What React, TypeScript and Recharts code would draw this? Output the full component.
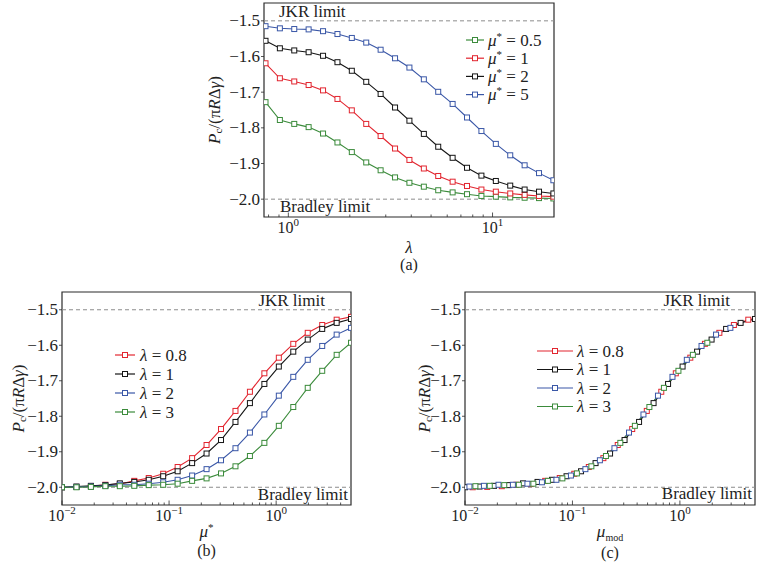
import {
  Legend,
  Line,
  LineChart,
  ReferenceArea,
  ReferenceLine,
  XAxis,
  YAxis,
} from 'recharts'

const FONT = "'Liberation Serif', 'DejaVu Serif', serif"
const RED = '#e2252f'
const BLACK = '#151515'
const BLUE = '#3a57a7'
const GREEN = '#3b8b3b'
const FRAME = '#2b2b2b'
const LIMIT = '#8c8c8c'
const INK = '#222'

// panel (a): P_c vs lambda, one curve per mu*
const LAMBDA = [0.773, 0.909, 1.069, 1.257, 1.479, 1.74, 2.046, 2.407, 2.831, 3.331, 3.917, 4.609, 5.42, 6.376, 7.499, 8.822, 10.38, 12.21, 14.36, 16.89, 19.86]
const A_MU05 = [-1.728, -1.778, -1.789, -1.798, -1.816, -1.841, -1.868, -1.897, -1.919, -1.939, -1.954, -1.965, -1.975, -1.981, -1.986, -1.991, -1.993, -1.995, -1.996, -1.997, -1.998]
const A_MU1 = [-1.619, -1.661, -1.67, -1.68, -1.695, -1.719, -1.751, -1.789, -1.823, -1.858, -1.89, -1.914, -1.935, -1.951, -1.963, -1.973, -1.979, -1.984, -1.988, -1.991, -1.993]
const A_MU2 = [-1.556, -1.577, -1.583, -1.588, -1.598, -1.616, -1.64, -1.671, -1.705, -1.743, -1.78, -1.817, -1.853, -1.884, -1.912, -1.934, -1.949, -1.962, -1.973, -1.979, -1.984]
const A_MU5 = [-1.515, -1.521, -1.523, -1.524, -1.529, -1.537, -1.548, -1.561, -1.581, -1.605, -1.631, -1.664, -1.699, -1.733, -1.771, -1.809, -1.845, -1.877, -1.905, -1.927, -1.947]

// panel (b): P_c vs mu*, one curve per lambda
const MU_STAR = [0.01, 0.01365, 0.01862, 0.02541, 0.03467, 0.04732, 0.06457, 0.0881, 0.1202, 0.1641, 0.2239, 0.3055, 0.4169, 0.5689, 0.7762, 1.059, 1.445, 1.972, 2.692, 3.673, 5.0]
const B_L08 = [-2.0, -1.999, -1.997, -1.993, -1.991, -1.982, -1.974, -1.962, -1.943, -1.918, -1.881, -1.836, -1.785, -1.731, -1.679, -1.635, -1.596, -1.565, -1.543, -1.528, -1.52]
const B_L1 = [-2.0, -1.998, -1.996, -1.994, -1.989, -1.985, -1.979, -1.969, -1.955, -1.932, -1.905, -1.867, -1.816, -1.763, -1.709, -1.66, -1.618, -1.584, -1.554, -1.537, -1.526]
const B_L2 = [-2.0, -1.999, -1.998, -1.996, -1.993, -1.993, -1.99, -1.986, -1.979, -1.967, -1.949, -1.924, -1.89, -1.846, -1.795, -1.742, -1.689, -1.641, -1.602, -1.57, -1.551]
const B_L3 = [-2.0, -2.0, -1.999, -1.997, -1.997, -1.996, -1.994, -1.993, -1.99, -1.982, -1.975, -1.961, -1.941, -1.912, -1.875, -1.827, -1.774, -1.72, -1.672, -1.627, -1.593]

// panel (c): same curves against mu_mod
const C_X_L08 = [0.0118, 0.0161, 0.022, 0.03, 0.0409, 0.0558, 0.0762, 0.104, 0.142, 0.194, 0.264, 0.36, 0.492, 0.671, 0.916, 1.25, 1.71, 2.33, 3.18, 4.33, 5.9]
const C_X_L1 = [0.01, 0.01365, 0.01862, 0.02541, 0.03467, 0.04732, 0.06457, 0.0881, 0.1202, 0.1641, 0.2239, 0.3055, 0.4169, 0.5689, 0.7762, 1.059, 1.445, 1.972, 2.692, 3.673, 5.0]
const C_X_L2 = [0.0059, 0.00805, 0.011, 0.015, 0.0205, 0.0279, 0.0381, 0.052, 0.0709, 0.0968, 0.132, 0.18, 0.246, 0.336, 0.458, 0.625, 0.853, 1.16, 1.59, 2.17, 2.95]
const C_X_L3 = [0.0036, 0.00491, 0.0067, 0.00915, 0.0125, 0.017, 0.0232, 0.0317, 0.0433, 0.0591, 0.0806, 0.11, 0.15, 0.205, 0.279, 0.381, 0.52, 0.71, 0.969, 1.32, 1.8]

const A_TICKS = [0.8, 0.9, 1, 2, 3, 4, 5, 6, 7, 8, 9, 10]
const BC_TICKS = [0.01, 0.02, 0.03, 0.04, 0.05, 0.06, 0.07, 0.08, 0.09, 0.1, 0.2, 0.3, 0.4, 0.5, 0.6, 0.7, 0.8, 0.9, 1, 2, 3, 4]
const Y_TICKS = [-2.0, -1.9, -1.8, -1.7, -1.6, -1.5]
const Y_DOMAIN = [-2.05, -1.45]

const MU_LABELS = ['0.5', '1', '2', '5']
const LAMBDA_LABELS = ['0.8', '1', '2', '3']

const dataA = LAMBDA.map((lam, i) => ({ lam, m05: A_MU05[i], m1: A_MU1[i], m2: A_MU2[i], m5: A_MU5[i] }))
const dataB = MU_STAR.map((mu, i) => ({ mu, l08: B_L08[i], l1: B_L1[i], l2: B_L2[i], l3: B_L3[i] }))
const pairs = (xs: number[], ys: number[]) => xs.map((x, i) => ({ x, y: ys[i] }))

const txt = (size: number) => ({ fontFamily: FONT, fontSize: size, fill: INK })

const squareDot = (color: string) => (props: any) => {
  const { cx, cy, index } = props
  if (cx == null || cy == null) return <g key={`d${index}`} />
  return <rect key={`d${index}`} x={cx - 2.5} y={cy - 2.5} width={5} height={5} fill="#fff" stroke={color} strokeWidth={1} />
}

function XTick(props: any) {
  const { x, y, payload } = props
  const v = payload.value as number
  const lg = Math.log10(v)
  const exp = Math.round(lg)
  const major = Math.abs(lg - exp) < 1e-6
  return (
    <g>
      <line x1={x} x2={x} y1={y} y2={y - (major ? 4.5 : 2.5)} stroke={FRAME} strokeWidth={0.8} />
      {major && (
        <text x={x} y={y + 16} textAnchor="middle" style={txt(16)}>
          10
          <tspan dy={-7} style={{ fontSize: 11 }}>{exp < 0 ? `−${-exp}` : `${exp}`}</tspan>
        </text>
      )}
    </g>
  )
}

function YTick(props: any) {
  const { x, y, payload } = props
  const v = payload.value as number
  return (
    <g>
      <line x1={x - 3} x2={x} y1={y} y2={y} stroke={FRAME} strokeWidth={0.8} />
      <text x={x - 4} y={y + 5.5} textAnchor="end" style={txt(17)}>
        {v.toFixed(1).replace('-', '−')}
      </text>
    </g>
  )
}

const yTitle = (cx: number) => (p: any) => {
  const vb = p.viewBox
  const x = vb.x + cx
  const y = vb.y + vb.height / 2
  return (
    <text x={x} y={y} transform={`rotate(-90 ${x} ${y})`} textAnchor="middle" dominantBaseline="central" style={txt(17)}>
      <tspan fontStyle="italic">P</tspan>
      <tspan style={{ fontSize: 11 }} dy={4}>c</tspan>
      <tspan dy={-4}>/(π</tspan>
      <tspan fontStyle="italic">R</tspan>
      <tspan>Δ</tspan>
      <tspan fontStyle="italic">γ</tspan>
      <tspan>)</tspan>
    </text>
  )
}

const xTitle = (title: React.ReactNode, letter: string, dyTitle: number, dyLetter: number) => (p: any) => {
  const vb = p.viewBox
  const cx = vb.x + vb.width / 2
  return (
    <g>
      <text x={cx} y={vb.y + dyTitle} textAnchor="middle" style={txt(17)}>{title}</text>
      <text x={cx} y={vb.y + dyLetter} textAnchor="middle" style={txt(16)}>{letter}</text>
    </g>
  )
}

const limitLabel = (text: string, side: 'left' | 'right', inset: number, dy: number) => (p: any) => {
  const vb = p.viewBox
  const x = side === 'left' ? vb.x + inset : vb.x + vb.width - inset
  return (
    <text x={x} y={vb.y + dy} textAnchor={side === 'left' ? 'start' : 'end'} style={txt(17)}>
      {text}
    </text>
  )
}

type LegendRow = { label: React.ReactNode; color: string }

function LegendBox({ rows, lineLen, gap, textGap, width }: { rows: LegendRow[]; lineLen: number; gap: number; textGap: number; width: number }) {
  const h = 12 + gap * rows.length
  return (
    <svg width={width} height={h} style={{ display: 'block', overflow: 'visible' }}>
      {rows.map((r, i) => {
        const cy = 10 + i * gap
        return (
          <g key={i}>
            <line x1={0} x2={lineLen} y1={cy} y2={cy} stroke={r.color} strokeWidth={1.2} />
            <rect x={lineLen / 2 - 2.5} y={cy - 2.5} width={5} height={5} fill="#fff" stroke={r.color} strokeWidth={1} />
            <text x={lineLen + textGap} y={cy + 5.5} style={txt(17)}>{r.label}</text>
          </g>
        )
      })}
    </svg>
  )
}

const muLabel = (v: string) => (
  <>
    <tspan fontStyle="italic">μ</tspan>
    <tspan dy={-6} style={{ fontSize: 11 }}>*</tspan>
    <tspan dy={6}> = {v}</tspan>
  </>
)
const lamLabel = (v: string) => (
  <>
    <tspan fontStyle="italic">λ</tspan>
    <tspan> = {v}</tspan>
  </>
)

const A_COLORS = [GREEN, RED, BLACK, BLUE]
const BC_COLORS = [RED, BLACK, BLUE, GREEN]

function PanelA() {
  const keys = ['m05', 'm1', 'm2', 'm5']
  return (
    <LineChart width={370} height={280} data={dataA} margin={{ top: 3, right: 6, bottom: 0, left: 0 }}>
      <XAxis
        dataKey="lam"
        type="number"
        scale="log"
        domain={[0.76, 20]}
        allowDataOverflow
        ticks={A_TICKS}
        interval={0}
        tick={<XTick />}
        tickLine={false}
        tickSize={0}
        tickMargin={0}
        axisLine={false}
        height={63}
        label={xTitle(<tspan fontStyle="italic">λ</tspan>, '(a)', 36, 53)}
      />
      <YAxis
        type="number"
        domain={Y_DOMAIN}
        allowDataOverflow
        ticks={Y_TICKS}
        interval={0}
        tick={<YTick />}
        tickLine={false}
        tickSize={0}
        tickMargin={0}
        axisLine={false}
        width={74}
        label={yTitle(24)}
      />
      <ReferenceLine y={-1.5} stroke={LIMIT} strokeDasharray="4 3" strokeWidth={1} label={limitLabel('JKR limit', 'left', 15, -4)} />
      <ReferenceLine y={-2.0} stroke={LIMIT} strokeDasharray="4 3" strokeWidth={1} label={limitLabel('Bradley limit', 'left', 16, 13)} />
      <ReferenceArea x1={0.76} x2={20} y1={-2.05} y2={-1.45} fill="none" stroke={FRAME} strokeWidth={1.2} ifOverflow="visible" />
      {keys.map((k, i) => (
        <Line key={k} dataKey={k} name={MU_LABELS[i]} type="linear" stroke={A_COLORS[i]} strokeWidth={1.1} dot={squareDot(A_COLORS[i])} activeDot={false} isAnimationActive={false} />
      ))}
      <Legend
        layout="vertical"
        align="center"
        verticalAlign="middle"
        wrapperStyle={{ left: 276, top: 30, width: 90, height: 80 }}
        content={() => <LegendBox rows={MU_LABELS.map((m, i) => ({ label: muLabel(m), color: A_COLORS[i] }))} lineLen={18} gap={18.2} textGap={4} width={90} />}
      />
    </LineChart>
  )
}

function PanelB() {
  const keys = ['l08', 'l1', 'l2', 'l3']
  return (
    <LineChart width={360} height={291} data={dataB} margin={{ top: 12, right: 9, bottom: 0, left: 0 }}>
      <XAxis
        dataKey="mu"
        type="number"
        scale="log"
        domain={[0.01, 5]}
        allowDataOverflow
        ticks={BC_TICKS}
        interval={0}
        tick={<XTick />}
        tickLine={false}
        tickSize={0}
        tickMargin={0}
        axisLine={false}
        height={66}
        label={xTitle(<><tspan fontStyle="italic">μ</tspan><tspan dy={-6} style={{ fontSize: 11 }}>*</tspan></>, '(b)', 32, 51)}
      />
      <YAxis
        type="number"
        domain={Y_DOMAIN}
        allowDataOverflow
        ticks={Y_TICKS}
        interval={0}
        tick={<YTick />}
        tickLine={false}
        tickSize={0}
        tickMargin={0}
        axisLine={false}
        width={62}
        label={yTitle(18)}
      />
      <ReferenceLine y={-1.5} stroke={LIMIT} strokeDasharray="4 3" strokeWidth={1} label={limitLabel('JKR limit', 'right', 26, -4)} />
      <ReferenceLine y={-2.0} stroke={LIMIT} strokeDasharray="4 3" strokeWidth={1} label={limitLabel('Bradley limit', 'right', 3, 13)} />
      <ReferenceArea x1={0.01} x2={5} y1={-2.05} y2={-1.45} fill="none" stroke={FRAME} strokeWidth={1.2} ifOverflow="visible" />
      {keys.map((k, i) => (
        <Line key={k} dataKey={k} name={LAMBDA_LABELS[i]} type="linear" stroke={BC_COLORS[i]} strokeWidth={1.1} dot={squareDot(BC_COLORS[i])} activeDot={false} isAnimationActive={false} />
      ))}
      <Legend
        layout="vertical"
        align="center"
        verticalAlign="middle"
        wrapperStyle={{ left: 115, top: 65, width: 90, height: 85 }}
        content={() => <LegendBox rows={LAMBDA_LABELS.map((m, i) => ({ label: lamLabel(m), color: BC_COLORS[i] }))} lineLen={20} gap={19} textGap={5} width={90} />}
      />
    </LineChart>
  )
}

function PanelC() {
  const series = [
    { id: 'l08', data: pairs(C_X_L08, B_L08) },
    { id: 'l1', data: pairs(C_X_L1, B_L1) },
    { id: 'l2', data: pairs(C_X_L2, B_L2) },
    { id: 'l3', data: pairs(C_X_L3, B_L3) },
  ]
  return (
    <LineChart width={369} height={291} margin={{ top: 12, right: 4, bottom: 0, left: 0 }}>
      <XAxis
        dataKey="x"
        type="number"
        scale="log"
        domain={[0.01, 5]}
        allowDataOverflow
        ticks={BC_TICKS}
        interval={0}
        tick={<XTick />}
        tickLine={false}
        tickSize={0}
        tickMargin={0}
        axisLine={false}
        height={66}
        label={xTitle(<><tspan fontStyle="italic">μ</tspan><tspan dy={4} style={{ fontSize: 10 }}>mod</tspan></>, '(c)', 32, 53)}
      />
      <YAxis
        type="number"
        domain={Y_DOMAIN}
        allowDataOverflow
        ticks={Y_TICKS}
        interval={0}
        tick={<YTick />}
        tickLine={false}
        tickSize={0}
        tickMargin={0}
        axisLine={false}
        width={75}
        label={yTitle(34)}
      />
      <ReferenceLine y={-1.5} stroke={LIMIT} strokeDasharray="4 3" strokeWidth={1} label={limitLabel('JKR limit', 'right', 25, -4)} />
      <ReferenceLine y={-2.0} stroke={LIMIT} strokeDasharray="4 3" strokeWidth={1} label={limitLabel('Bradley limit', 'right', 3, 12)} />
      <ReferenceArea x1={0.01} x2={5} y1={-2.05} y2={-1.45} fill="none" stroke={FRAME} strokeWidth={1.2} ifOverflow="visible" />
      {series.map((s, i) => (
        <Line key={s.id} data={s.data} dataKey="y" name={LAMBDA_LABELS[i]} type="linear" stroke={BC_COLORS[i]} strokeWidth={1.1} dot={squareDot(BC_COLORS[i])} activeDot={false} isAnimationActive={false} />
      ))}
      <Legend
        layout="vertical"
        align="center"
        verticalAlign="middle"
        wrapperStyle={{ left: 147, top: 61, width: 100, height: 85 }}
        content={() => <LegendBox rows={LAMBDA_LABELS.map((m, i) => ({ label: lamLabel(m), color: BC_COLORS[i] }))} lineLen={36} gap={18.5} textGap={4} width={100} />}
      />
    </LineChart>
  )
}

export default function App() {
  return (
    <div style={{ position: 'absolute', left: 0, top: 0, width: 759, height: 571, background: '#fff', fontFamily: FONT }}>
      <div style={{ position: 'absolute', left: 190, top: 0 }}>
        <PanelA />
      </div>
      <div style={{ position: 'absolute', left: 0, top: 280 }}>
        <PanelB />
      </div>
      <div style={{ position: 'absolute', left: 390, top: 280 }}>
        <PanelC />
      </div>
    </div>
  )
}
